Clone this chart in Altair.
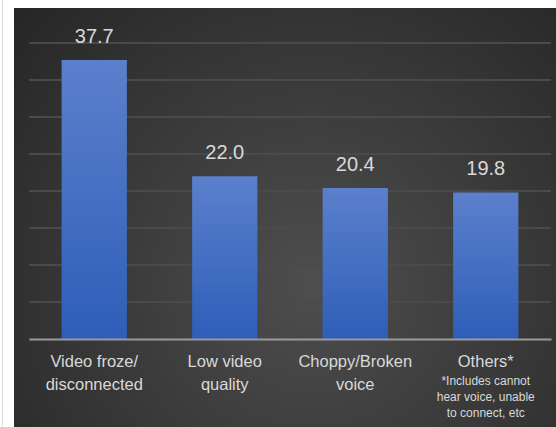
import altair as alt
import pandas as pd

categories = ["Video froze/|disconnected", "Low video|quality", "Choppy/Broken|voice", "Others*"]
values = [37.7, 22.0, 20.4, 19.8]
value_labels = ["37.7", "22.0", "20.4", "19.8"]
note_category = "Others*"
note_lines = ["*Includes cannot", "hear voice, unable", "to connect, etc"]
grid_values = [5, 10, 15, 20, 25, 30, 35, 40]

df = pd.DataFrame({"category": categories, "value": values, "label": value_labels})
grid_df = pd.DataFrame({"g": grid_values})
note_df = pd.DataFrame({"category": [note_category], "note": ["|".join(note_lines)]})
one = pd.DataFrame({"a": [0]})

W, H = 522, 296
FONT = "Liberation Sans"
TXT = "#d9d9d9"

xscale = alt.Scale(domain=categories, paddingInner=0.5, paddingOuter=0.25)
yscale = alt.Scale(domain=[0, 40], nice=False)

bg = alt.Chart(one).mark_rect(
    clip=False,
    fill=alt.Gradient(
        gradient="radial",
        stops=[alt.GradientStop(color="#4e4e4e", offset=0),
               alt.GradientStop(color="#242424", offset=1)],
        x1=0.55, y1=0.62, x2=0.55, y2=0.62, r1=0, r2=0.78,
    ),
).encode(x=alt.value(-15), x2=alt.value(527), y=alt.value(-35), y2=alt.value(384))

edge = alt.Chart(one).mark_rule(color="#dcdcdc", strokeWidth=1, clip=False).encode(
    x=alt.value(-26.5), y=alt.value(-43), y2=alt.value(384)
)

grid = alt.Chart(grid_df).mark_rule(color="#4a4a4a", strokeWidth=2).encode(
    y=alt.Y("g:Q", scale=yscale, axis=None),
    x=alt.value(0), x2=alt.value(W),
)

bars = alt.Chart(df).mark_bar(
    fill=alt.Gradient(
        gradient="linear",
        stops=[alt.GradientStop(color="#5b80cc", offset=0),
               alt.GradientStop(color="#2e5eb8", offset=1)],
        x1=0, y1=0, x2=0, y2=1,
    ),
).encode(
    x=alt.X("category:N", scale=xscale, sort=categories,
            axis=alt.Axis(title=None, labelExpr="split(datum.value, '|')", labelAngle=0,
                          labelFont=FONT, labelFontSize=16.5, labelLineHeight=23,
                          labelColor=TXT, labelPadding=14, labelBaseline="top",
                          domainColor="#9a9a9a", domainWidth=2, ticks=False, zindex=1)),
    y=alt.Y("value:Q", scale=yscale, axis=None),
)

text = alt.Chart(df).mark_text(
    font=FONT, fontSize=20, color=TXT, dy=-17, baseline="alphabetic"
).encode(
    x=alt.X("category:N", scale=xscale, sort=categories),
    y=alt.Y("value:Q", scale=yscale),
    text="label:N",
)

note = alt.Chart(note_df).transform_calculate(
    lines="split(datum.note, '|')"
).mark_text(
    font=FONT, fontSize=12, color=TXT, baseline="top", lineHeight=16, clip=False
).encode(
    x=alt.X("category:N", scale=xscale, sort=categories),
    y=alt.value(333),
    text="lines:N",
)

chart = alt.layer(bg, edge, grid, bars, text, note).properties(
    width=W, height=H,
    autosize=alt.AutoSizeParams(type="none"),
    padding={"left": 29, "top": 43, "right": 5, "bottom": 88},
    background="white",
).configure_view(stroke=None)

chart.save("out.html", embed_options={"renderer": "svg", "actions": False})
